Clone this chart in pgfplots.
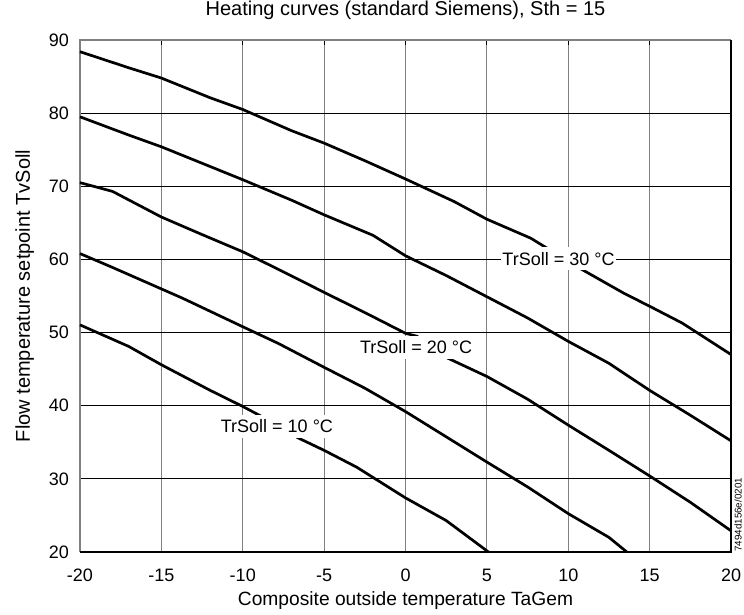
\documentclass[border=0pt]{standalone}
\usepackage{fontspec}
\setmainfont{Liberation Sans}
\usepackage{pgfplots}
\pgfplotsset{compat=1.18}
\definecolor{gridgray}{RGB}{128,128,128}
\newcommand{\lblfont}{\fontsize{9bp}{10.8bp}\selectfont}
\newcommand{\axfont}{\fontsize{10bp}{12bp}\selectfont}

\begin{document}
\begin{tikzpicture}[font=\lblfont]
\begin{axis}[
  scale only axis, width=325.5bp, height=256bp,
  xmin=-20, xmax=20, ymin=20, ymax=90,
  xtick={-20,-15,...,20}, ytick={20,30,...,90},
  /pgf/number format/assume math mode=true,
  tick label style={font=\lblfont},
  xticklabel style={yshift=-5bp}, yticklabel style={xshift=-2bp},
  grid=major,
  x grid style={gridgray, line width=0.5bp},
  y grid style={black, line width=0.4bp},
  axis line style={draw=none},
  xtick pos=right, xticklabel pos=left, tick align=inside, major tick length=2.5bp,
  xtick style={black, line width=0.6bp}, ytick style={draw=none},
  title={Heating curves (standard Siemens), Sth = 15},
  title style={font=\axfont, at={(axis description cs:0.5,1.035)}, anchor=center},
  xlabel={Composite outside temperature TaGem},
  xlabel style={font=\fontsize{9.6bp}{11.5bp}\selectfont, at={(axis description cs:0.5,-0.0957)}, anchor=center},
  ylabel={Flow temperature setpoint TvSoll},
  ylabel style={font=\axfont, at={(axis description cs:-0.0848,0.5)}, anchor=center},
  clip=false,
]
% box: left and top grey, bottom and right black
\draw[gridgray, line width=0.6bp] (axis cs:-20,20) -- (axis cs:-20,90) -- (axis cs:20,90);
\draw[black, line width=0.6bp] (axis cs:-20,20) -- (axis cs:20,20) -- (axis cs:20,90);

% TrSoll = 30
\addplot[black, line width=1.35bp, line join=round] coordinates {
  (-20,88.4) (-17,86.2) (-15,84.8) (-12,82.1) (-10,80.5) (-7,77.6) (-5,75.9)
  (-2.5,73.5) (0,71.0) (3,67.9) (5,65.5) (7.7,62.9) (10.7,58.8) (13.4,55.4)
  (15,53.6) (17,51.3) (20,47.0)};
% TrSoll = 25
\addplot[black, line width=1.35bp, line join=round] coordinates {
  (-20,79.5) (-17,77.0) (-15,75.4) (-12,72.7) (-10,70.9) (-7,68.1) (-5,66.1)
  (-2,63.3) (0,60.5) (2.5,57.8) (5,54.9) (7.5,52.0) (10,48.8) (12.5,45.8)
  (15,42.1) (17.5,38.7) (20,35.2)};
% TrSoll = 20
\addplot[black, line width=1.35bp, line join=round] coordinates {
  (-20,70.5) (-18,69.3) (-15,65.8) (-12.5,63.4) (-10,61.05) (-7.5,58.3) (-5,55.5)
  (-2.2,52.4) (0,49.9) (0.7,49.5) (2.6,46.5) (5,44.0) (7.5,40.9) (10,37.35)
  (12.5,33.9) (15,30.4) (17.5,26.8) (20,22.9)};
% TrSoll = 15
\addplot[black, line width=1.35bp, line join=round] coordinates {
  (-20,60.8) (-18.1,59.0) (-13.7,54.7) (-10,50.8) (-7.8,48.5) (-5,45.25)
  (-2.5,42.4) (0,39.2) (2.5,35.75) (5,32.3) (7.5,28.9) (10,25.25) (12.5,22.0)
  (13.6,20)};
% TrSoll = 10
\addplot[black, line width=1.35bp, line join=round] coordinates {
  (-20,51.05) (-17,48.1) (-15,45.6) (-12,42.1) (-10,39.9) (-8.9,38.6) (-6.6,35.6)
  (-5,33.9) (-3,31.6) (0,27.4) (2.5,24.3) (5.1,20)};

\node[fill=white, inner xsep=0.5bp, inner ysep=2.5bp] at (axis cs:9.4,60.1) {TrSoll = 30 °C};
\node[fill=white, inner xsep=0.5bp, inner ysep=2.5bp] at (axis cs:0.65,48.0) {TrSoll = 20 °C};
\node[fill=white, inner xsep=0.5bp, inner ysep=2.5bp] at (axis cs:-7.9,37.2) {TrSoll = 10 °C};

\node[rotate=90, anchor=north west, inner sep=0, font=\fontsize{4.9bp}{5.5bp}\selectfont]
  at (rel axis cs:1.0046,0) {7494d156e/0201};

\coordinate (sw) at (rel axis cs:0,0);
\coordinate (ne) at (rel axis cs:1,1);
\end{axis}
\pgfresetboundingbox
\path ([xshift=-40bp,yshift=-31bp]sw) rectangle ([xshift=6.5bp,yshift=20bp]ne);
\end{tikzpicture}
\end{document}
